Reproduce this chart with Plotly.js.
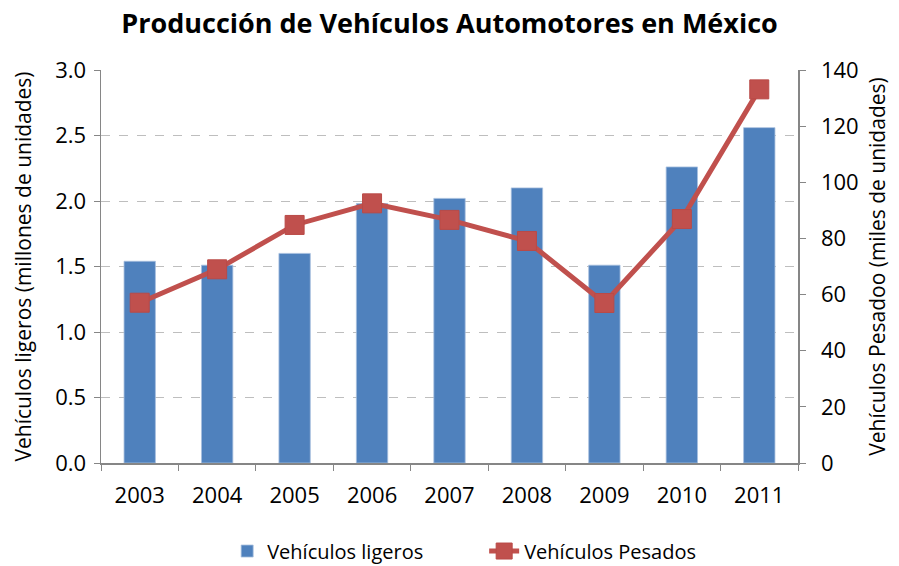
<!DOCTYPE html>
<html>
<head>
<meta charset="utf-8">
<script src="https://cdn.plot.ly/plotly-3.0.1.min.js"></script>
<style>html,body{margin:0;padding:0;background:#fff}#chart{width:899px;height:566px}</style>
</head>
<body>
<div id="chart"></div>
<script>
const years = ["2003","2004","2005","2006","2007","2008","2009","2010","2011"];
const ligeros = [1.54, 1.51, 1.60, 1.98, 2.02, 2.10, 1.51, 2.26, 2.56];
const pesados = [57.1, 69.0, 84.8, 92.5, 86.6, 79.1, 57.0, 86.9, 133.1];

const FONT = "'Open Sans', sans-serif";

const traces = [
  {
    type: "bar", x: years, y: ligeros, name: "Vehículos ligeros",
    marker: {color: "#4F81BD", line: {color: "#A7BFDE", width: 0.8}},
    yaxis: "y"
  },
  {
    type: "scatter", mode: "lines+markers", x: years, y: pesados, name: "Vehículos Pesados",
    line: {color: "#C0504D", width: 5},
    marker: {symbol: "square", size: 19, color: "#C0504D", line: {color: "#B94A47", width: 1}},
    yaxis: "y2"
  }
];

const layout = {
  width: 899, height: 566,
  margin: {l: 101, r: 101, t: 70, b: 103, autoexpand: false},
  paper_bgcolor: "#fff", plot_bgcolor: "#fff",
  font: {family: FONT, size: 22, color: "#000"},
  title: {text: "<b>Producción de Vehículos Automotores en México</b>", font: {family: FONT, size: 27, color: "#000"}, x: 0.5, xanchor: "center", y: 0.958, yanchor: "middle"},
  bargap: 0.595,
  showlegend: true,
  legend: {orientation: "h", x: 0.181, xanchor: "left", y: -0.224, yanchor: "middle", font: {family: FONT, size: 20}, traceorder: "normal", entrywidth: 212, entrywidthmode: "pixels"},
  xaxis: {
    type: "category", range: [-0.5, 8.5], showline: true, linecolor: "#868686", linewidth: 1.5, automargin: false,
    ticks: "outside", tickson: "boundaries", ticklen: 6, tickcolor: "#868686", ticklabelstandoff: 12,
    tickfont: {family: FONT, size: 22}, showgrid: false, zeroline: false
  },
  yaxis: {
    range: [0, 3], dtick: 0.5, tickformat: ".1f", automargin: false,
    showline: true, linecolor: "#868686", linewidth: 1.5, ticks: "outside", ticklen: 6, tickcolor: "#868686", ticklabelstandoff: 3,
    showgrid: true, gridcolor: "#BEBEBE", griddash: "dash", gridwidth: 1, zeroline: false,
    tickfont: {family: FONT, size: 22},
    title: {text: "Vehículos ligeros (millones de unidades)", font: {family: FONT, size: 21}, standoff: 18}
  },
  yaxis2: {
    range: [0, 140], dtick: 20, overlaying: "y", side: "right", automargin: false,
    showline: true, linecolor: "#868686", linewidth: 1.5, ticks: "outside", ticklen: 6, tickcolor: "#868686", ticklabelstandoff: 11,
    showgrid: false, zeroline: false,
    tickfont: {family: FONT, size: 22},
    title: {text: "Vehículos Pesadoo (miles de unidades)", font: {family: FONT, size: 21}, standoff: 12}
  }
};

Plotly.newPlot("chart", traces, layout, {displayModeBar: false, staticPlot: true});
</script>
</body>
</html>
